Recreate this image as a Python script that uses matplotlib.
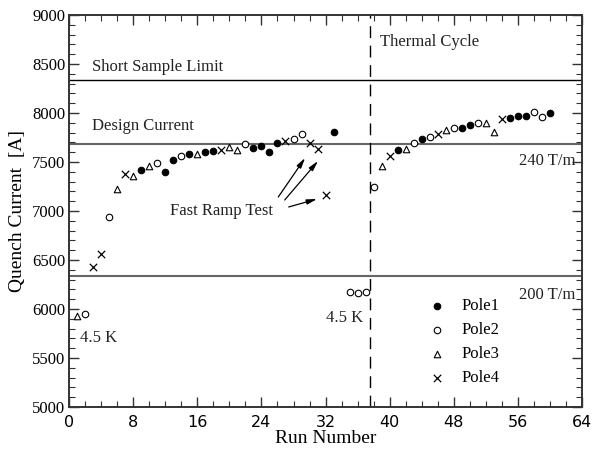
import matplotlib
matplotlib.use("Agg")
import matplotlib.pyplot as plt
from matplotlib.ticker import MultipleLocator

# -------------------------------------------------
# DATA
# -------------------------------------------------
pole1_run = [9, 12, 13, 15, 17, 18, 23, 24, 25, 26, 33,
             41, 44, 49, 50, 55, 56, 57, 60]
pole1_amp = [7418, 7398, 7520, 7582, 7602, 7612, 7643, 7663, 7602, 7694, 7806,
             7622, 7735, 7847, 7878, 7949, 7969, 7969, 8000]

pole2_run = [2, 5, 11, 14, 22, 28, 29, 35, 36, 37,
             38, 43, 45, 48, 51, 58, 59]
pole2_amp = [5949, 6939, 7490, 7561, 7684, 7735, 7786, 6173, 6163, 6173,
             7245, 7694, 7755, 7847, 7898, 8010, 7959]

pole3_run = [1, 6, 8, 10, 16, 20, 21, 39, 42, 47, 52, 53]
pole3_amp = [5929, 7224, 7357, 7459, 7582, 7653, 7622, 7459, 7633, 7827, 7898, 7806]

pole4_run = [3, 4, 7, 19, 27, 30, 31, 32, 40, 46, 54]
pole4_amp = [6429, 6561, 7378, 7622, 7714, 7694, 7633, 7163, 7561, 7786, 7939]

short_sample_limit = 8335
design_current = 7682
field_200 = 6337
thermal_cycle_run = 37.6

# fast ramp arrows: (tail, head)
ramp_arrows = [((26.1, 7143), (29.45, 7541)),
               ((26.9, 7112), (31.06, 7510)),
               ((27.4, 7041), (30.94, 7122))]

# -------------------------------------------------
# FIGURE
# -------------------------------------------------
serif = ["Liberation Serif", "DejaVu Serif"]

fig = plt.figure(figsize=(5.93, 4.5), dpi=100)
ax = fig.add_axes([0.1169, 0.0956, 0.8641, 0.8711])

ms = 22
ax.scatter(pole1_run, pole1_amp, s=ms, marker="o", facecolor="black",
           edgecolor="black", linewidth=0.8, label="Pole1", zorder=3)
ax.scatter(pole2_run, pole2_amp, s=ms, marker="o", facecolor="white",
           edgecolor="black", linewidth=0.8, label="Pole2", zorder=3)
ax.scatter(pole3_run, pole3_amp, s=ms, marker="^", facecolor="white",
           edgecolor="black", linewidth=0.8, label="Pole3", zorder=3)
ax.scatter(pole4_run, pole4_amp, s=ms + 6, marker="x", color="black",
           linewidth=0.9, label="Pole4", zorder=3)

ax.axhline(short_sample_limit, color="black", lw=1.0, zorder=1)
ax.axhline(design_current, color="#666666", lw=1.5, zorder=1)
ax.axhline(field_200, color="#666666", lw=1.5, zorder=1)
ax.axvline(thermal_cycle_run, color="black", lw=1.0,
           linestyle=(0, (8.5, 5.5)), zorder=1)

for (x0, y0), (x1, y1) in ramp_arrows:
    ax.annotate("", xy=(x1, y1), xytext=(x0, y0),
                arrowprops=dict(arrowstyle="-|>,head_length=0.6,head_width=0.15",
                                color="black", lw=0.9, shrinkA=0, shrinkB=0))

tkw = dict(family=serif, fontsize=12, color="#222222")
ax.text(2.84, 8469, "Short Sample Limit", va="center", ha="left", **tkw)
ax.text(2.84, 7867, "Design Current", va="center", ha="left", **tkw)
ax.text(38.8, 8721, "Thermal Cycle", va="center", ha="left", **tkw)
ax.text(63.2, 7513, "240 T/m", va="center", ha="right", **tkw)
ax.text(63.2, 6143, "200 T/m", va="center", ha="right", **tkw)
ax.text(1.34, 5701, "4.5 K", va="center", ha="left", **tkw)
ax.text(32.1, 5905, "4.5 K", va="center", ha="left", **tkw)
ax.text(12.58, 7000, "Fast Ramp Test", va="center", ha="left", **tkw)

ax.set_xlim(0, 64)
ax.set_ylim(5000, 9000)
ax.xaxis.set_major_locator(MultipleLocator(8))
ax.xaxis.set_minor_locator(MultipleLocator(2))
ax.yaxis.set_major_locator(MultipleLocator(500))
ax.yaxis.set_minor_locator(MultipleLocator(100))

ax.tick_params(which="both", direction="in", top=True, right=True,
               color="#333333")
ax.tick_params(which="major", length=7, width=1.0)
ax.tick_params(which="minor", length=4, width=0.8)
ax.tick_params(axis="x", which="major", pad=6, labelsize=11.5)
ax.tick_params(axis="y", which="major", pad=3)
for lab in ax.get_yticklabels():
    lab.set_fontfamily(serif)
    lab.set_fontsize(12)
for lab in ax.get_xticklabels():
    lab.set_fontfamily(["DejaVu Sans"])

for sp in ax.spines.values():
    sp.set_color("#333333")
    sp.set_linewidth(1.4)

ax.set_xlabel("Run Number", family=serif, fontsize=14, labelpad=0)
ax.set_ylabel("Quench Current  [A]", family=serif, fontsize=14, labelpad=4)

leg = ax.legend(loc="upper left", bbox_to_anchor=(0.701, 0.277),
                frameon=False, prop=dict(family=serif, size=12),
                handlelength=1.0, handletextpad=1.0, borderpad=0,
                labelspacing=0.47, borderaxespad=0)

fig.savefig("out.png", dpi=100)
